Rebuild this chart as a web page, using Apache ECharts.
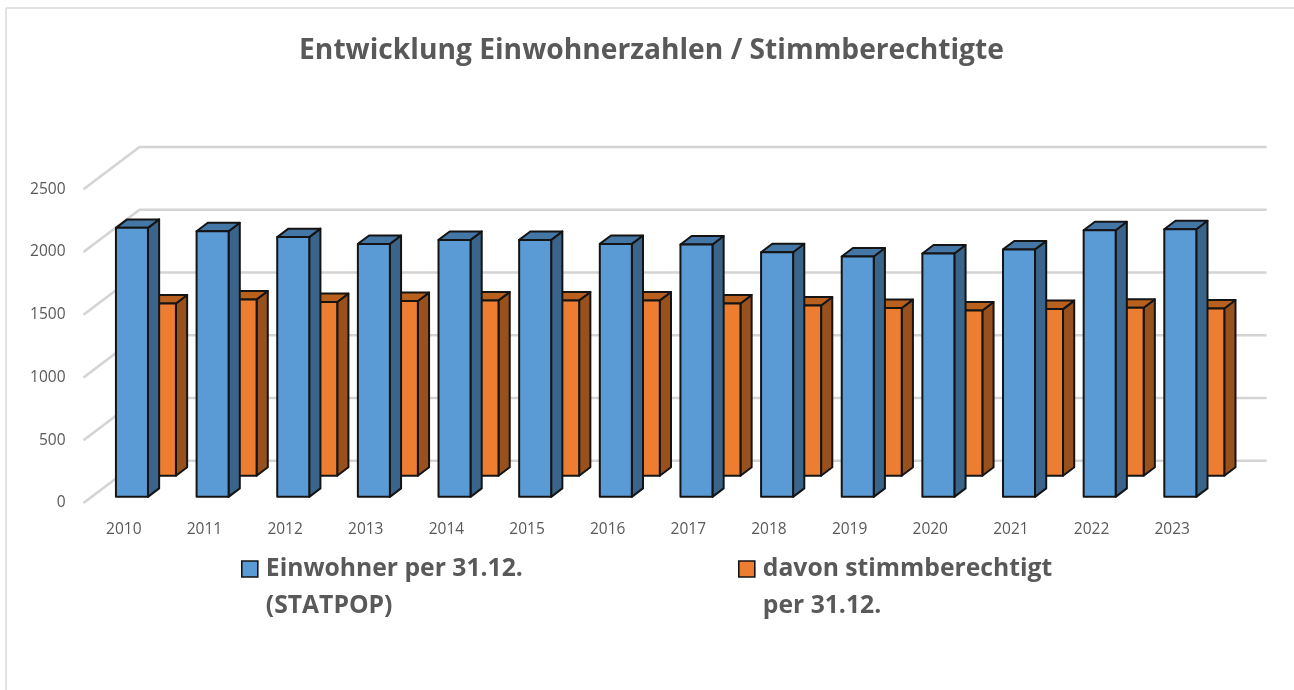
<!DOCTYPE html>
<html>
  <head>
    <meta charset="UTF-8">
    <script src="https://cdn.jsdelivr.net/npm/echarts@6/dist/echarts.min.js"></script>
    <title>Entwicklung Einwohnerzahlen / Stimmberechtigte</title>
    <style>
      html, body { margin: 0; padding: 0; background: #fff; }
    </style>
  </head>
  <body>
    <div id="main" style="width:1294px;height:690px;"></div>
  <script>
var years = ['2010','2011','2012','2013','2014','2015','2016','2017','2018','2019','2020','2021','2022','2023'];
var einwohner = [2144,2117,2070,2016,2048,2048,2016,2011,1950,1916,1940,1972,2125,2133];
var stimmberechtigt = [1373,1405,1384,1392,1397,1397,1397,1373,1357,1336,1317,1328,1339,1333];
var yTicks = [0,500,1000,1500,2000,2500];
var nameEinwohner = 'Einwohner per 31.12.\n(STATPOP)';
var nameStimm = 'davon stimmberechtigt\nper 31.12.';

// the floor goes back this far on screen (excel 3d look)
var wallDx = 56, wallDy = 42.3;
var barWidth = 32, barDepth = 0.2;
var textColor = '#595959';
var fontName = '"Open Sans", sans-serif';

function renderWall(params, api) {
  var p = api.coord([0, api.value(0)]);
  var x0 = params.coordSys.x;
  var x1 = x0 + params.coordSys.width - 2;
  return {
    type: 'polyline',
    shape: { points: [[x0, p[1]], [x0 + wallDx, p[1] - wallDy], [x1 + wallDx, p[1] - wallDy]] },
    style: { fill: 'none', stroke: '#d4d4d4', lineWidth: 2.6 },
    silent: true
  };
}

function barRenderer(depth, front, side, top) {
  return function (params, api) {
    var base = api.coord([api.value(0), 0]);
    var head = api.coord([api.value(0), api.value(1)]);
    var x = base[0] + depth * wallDx - barWidth / 2;
    var yb = base[1] - depth * wallDy;
    var yt = head[1] - depth * wallDy;
    var dx = barDepth * wallDx, dy = barDepth * wallDy;
    var line = { stroke: '#141414', lineWidth: 2, lineJoin: 'round' };
    function face(pts, color) {
      return { type: 'polygon', shape: { points: pts }, style: Object.assign({ fill: color }, line) };
    }
    return {
      type: 'group',
      children: [
        face([[x + barWidth, yt], [x + barWidth + dx, yt - dy], [x + barWidth + dx, yb - dy], [x + barWidth, yb]], side),
        face([[x, yt], [x + dx, yt - dy], [x + barWidth + dx, yt - dy], [x + barWidth, yt]], top),
        face([[x, yt], [x + barWidth, yt], [x + barWidth, yb], [x, yb]], front)
      ]
    };
  };
}

function pairs(values) {
  return values.map(function (v, i) { return [i, v]; });
}

var legendBase = {
  top: 513.5,
  padding: 0,
  itemWidth: 16,
  itemHeight: 16,
  icon: 'rect',
  selectedMode: false,
  // blank first line so the marker sits next to the first text line
  formatter: function (name) { return ' \n' + name; },
  itemStyle: { borderColor: '#141414', borderWidth: 1.6 },
  textStyle: {
    color: textColor, fontFamily: fontName, fontWeight: 'bold',
    fontSize: 24.7, lineHeight: 37, padding: [0, 0, 0, 3]
  }
};

var option = {
  animation: false,
  backgroundColor: '#fff',
  title: {
    text: 'Entwicklung Einwohnerzahlen / Stimmberechtigte',
    left: 646.5,
    top: 32,
    textAlign: 'center',
    textStyle: { color: textColor, fontFamily: fontName, fontWeight: 'bold', fontSize: 28.2 }
  },
  legend: [
    Object.assign({}, legendBase, { left: 241, data: [nameEinwohner] }),
    Object.assign({}, legendBase, { left: 738, data: [nameStimm] })
  ],
  grid: { left: 83.5, top: 189.3, width: 1129, height: 313.7 },
  xAxis: {
    type: 'category',
    data: years,
    axisLine: { show: false },
    axisTick: { show: false },
    axisLabel: { color: textColor, fontFamily: fontName, fontSize: 15.5, margin: 19 }
  },
  yAxis: {
    type: 'value',
    min: 0,
    max: 2500,
    interval: 500,
    axisLine: { show: false },
    axisTick: { show: false },
    splitLine: { show: false },
    axisLabel: {
      color: textColor, fontFamily: fontName, fontSize: 15.5, margin: 18,
      formatter: function (v) { return String(v); }
    }
  },
  series: [
    {
      name: 'walls',
      type: 'custom',
      renderItem: renderWall,
      data: yTicks,
      encode: { y: 0 },
      clip: false,
      silent: true
    },
    {
      name: nameStimm,
      type: 'custom',
      renderItem: barRenderer(0.645, '#ED7D31', '#98501C', '#B9601F'),
      data: pairs(stimmberechtigt),
      encode: { x: 0, y: 1 },
      itemStyle: { color: '#ED7D31' },
      clip: false
    },
    {
      name: nameEinwohner,
      type: 'custom',
      renderItem: barRenderer(0.145, '#5B9BD5', '#3A6489', '#4577A6'),
      data: pairs(einwohner),
      encode: { x: 0, y: 1 },
      itemStyle: { color: '#5B9BD5' },
      clip: false
    }
  ],
  graphic: [
    { type: 'line', silent: true, shape: { x1: 6, y1: 8, x2: 1294, y2: 8 }, style: { stroke: '#e2e2e2', lineWidth: 2 } },
    { type: 'line', silent: true, shape: { x1: 6, y1: 8, x2: 6, y2: 690 }, style: { stroke: '#e2e2e2', lineWidth: 2 } }
  ]
};

var t0 = echarts.init(document.getElementById('main'));
t0.setOption(option);
  </script>
  </body>
</html>
